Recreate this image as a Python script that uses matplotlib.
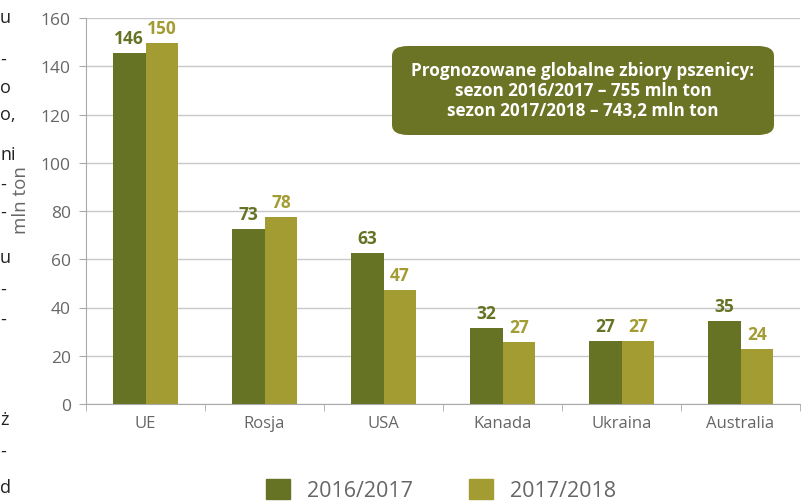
import numpy as np
import matplotlib.pyplot as plt
from matplotlib.patches import FancyBboxPatch, Patch

plt.rcParams['font.family'] = ['Open Sans', 'DejaVu Sans']

countries = ["UE", "Rosja", "USA", "Kanada", "Ukraina", "Australia"]
vals_1617 = [145.6, 72.6, 62.6, 31.5, 26.1, 34.4]
vals_1718 = [149.8, 77.6, 47.3, 25.7, 26.1, 22.8]
labels_1617 = ["146", "73", "63", "32", "27", "35"]
labels_1718 = ["150", "78", "47", "27", "27", "24"]
season_names = ["2016/2017", "2017/2018"]
box_lines = ["Prognozowane globalne zbiory pszenicy:",
             "sezon 2016/2017 – 755 mln ton",
             "sezon 2017/2018 – 743,2 mln ton"]
# fragments of the neighbouring text column, cut off at the left edge
side_text = ["u", "-", "o", "o,", "ni", "-", "-", "u", "-", "-", "ż", "-", "d"]
side_y = [18, 60, 88, 115, 155, 185, 213, 258, 290, 320, 420, 452, 488]

dark = "#667224"
light = "#a39c32"
grey = "#666666"

fig = plt.figure(figsize=(8.01, 5.02), dpi=100)
ax = fig.add_axes([86 / 801, 1 - 405 / 502, 714 / 801, 386 / 502])

x = np.arange(len(countries))
w = 0.277
ax.bar(x - w / 2, vals_1617, w, color=dark, zorder=3)
ax.bar(x + w / 2, vals_1718, w, color=light, zorder=3)

for i in range(len(countries)):
    ax.text(x[i] - w / 2, vals_1617[i] + 2.5, labels_1617[i], ha="center", va="bottom",
            color=dark, fontsize=12.5, fontweight="bold")
    ax.text(x[i] + w / 2, vals_1718[i] + 2.5, labels_1718[i], ha="center", va="bottom",
            color=light, fontsize=12.5, fontweight="bold")

ax.set_xlim(-0.5, len(countries) - 0.5)
ax.set_ylim(0, 160)
ax.set_yticks(np.arange(0, 161, 20))
ax.yaxis.grid(True, color="#c8c8c8", linewidth=1, zorder=0)
ax.set_xticks(x)
ax.set_xticklabels(countries)
ax.set_xticks(np.arange(-0.5, len(countries)), minor=True)
ax.tick_params(axis="x", which="major", length=0, pad=8, labelsize=12, labelcolor=grey)
ax.tick_params(axis="x", which="minor", length=5, color="#aaaaaa")
ax.tick_params(axis="y", length=5, color="#aaaaaa", labelsize=12.5, labelcolor=grey, pad=6)
for s in ["top", "right"]:
    ax.spines[s].set_visible(False)
for s in ["left", "bottom"]:
    ax.spines[s].set_color("#aaaaaa")
ax.set_ylabel("mln ton", fontsize=13.5, color=grey, labelpad=0)
ax.yaxis.set_label_coords(-0.079, 0.53)

# info box
box = FancyBboxPatch((392 / 801, 1 - 136 / 502), 382 / 801, 89 / 502,
                     boxstyle="round,pad=0,rounding_size=0.02",
                     transform=fig.transFigure, facecolor="#6b7325",
                     edgecolor="none", zorder=5)
fig.patches.append(box)
for j, line in enumerate(box_lines):
    fig.text(583 / 801, 1 - (71 + 20 * j) / 502, line, ha="center", va="center",
             color="white", fontsize=12.3, fontweight="bold", zorder=6)

for t, yy in zip(side_text, side_y):
    fig.text(0, 1 - yy / 502, t, ha="left", va="center", fontsize=13, color="#222222")

handles = [Patch(color=dark), Patch(color=light)]
fig.legend(handles, season_names, loc="center", bbox_to_anchor=(441 / 801, 1 - 491 / 502),
           ncol=2, frameon=False, fontsize=15.5, labelcolor=grey,
           handlelength=1.1, handleheight=1.1, handletextpad=0.8, columnspacing=2.6)

fig.savefig("out.png", dpi=100)
